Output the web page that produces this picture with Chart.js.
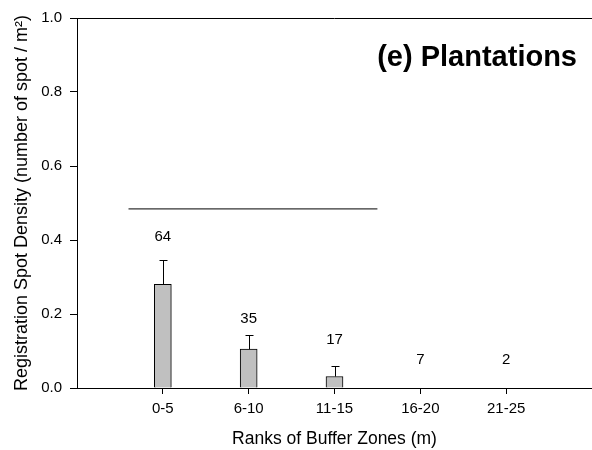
<!DOCTYPE html>
<html>
<head>
<meta charset="utf-8">
<script src="https://cdn.jsdelivr.net/npm/chart.js@4/dist/chart.umd.min.js"></script>
<style>
  html, body { margin: 0; padding: 0; background: #fff; }
  #wrap { width: 592px; height: 450px; }
</style>
</head>
<body>
<div id="wrap"><canvas id="c" width="592" height="450"></canvas></div>
<script>
// data
const categories = ["0-5", "6-10", "11-15", "16-20", "21-25"];
const density = [0.28, 0.105, 0.031, 0, 0];
const errUpper = [0.346, 0.144, 0.060, 0, 0];
const counts = [64, 35, 17, 7, 2];
const countLabelY = [0.408, 0.186, 0.13, 0.076, 0.076];
const yTicks = [0, 0.2, 0.4, 0.6, 0.8, 1.0];
// horizontal bracket line (x in category units, 1 = first zone)
const bracketX = [0.6, 3.5];
const bracketY = 0.484;

const FONT = "Liberation Sans, Arial, sans-serif";

const barPoints = categories.map((c, i) => ({ x: i + 1, y: density[i] }));

// error bars, count labels, panel title, top frame
const extras = {
  id: "extras",
  afterDatasetsDraw(chart) {
    const ctx = chart.ctx;
    const xs = chart.scales.x, ys = chart.scales.y;
    const area = chart.chartArea;
    ctx.save();
    ctx.strokeStyle = "#000";
    ctx.lineWidth = 1;

    // top frame line
    ctx.beginPath();
    ctx.moveTo(area.left, Math.round(area.top) + 0.5);
    ctx.lineTo(area.right, Math.round(area.top) + 0.5);
    ctx.stroke();

    // upper error bars
    errUpper.forEach((e, i) => {
      if (e <= density[i]) return;
      const px = Math.round(xs.getPixelForValue(i + 1)) + 0.5;
      const y0 = ys.getPixelForValue(density[i]);
      const y1 = Math.round(ys.getPixelForValue(e)) + 0.5;
      ctx.beginPath();
      ctx.moveTo(px, y0);
      ctx.lineTo(px, y1);
      ctx.moveTo(px - 4, y1);
      ctx.lineTo(px + 4, y1);
      ctx.stroke();
    });

    // sample counts
    ctx.fillStyle = "#000";
    ctx.font = "15px " + FONT;
    ctx.textAlign = "center";
    ctx.textBaseline = "middle";
    counts.forEach((n, i) => {
      ctx.fillText(String(n), xs.getPixelForValue(i + 1), ys.getPixelForValue(countLabelY[i]));
    });

    // panel title
    ctx.font = "bold 29px " + FONT;
    ctx.textAlign = "right";
    ctx.fillText("(e) Plantations", 577, 58);
    ctx.restore();
  }
};

new Chart(document.getElementById("c"), {
  data: {
    datasets: [
      {
        type: "bar",
        data: barPoints,
        backgroundColor: "#c0c0c0",
        borderColor: "#000",
        borderWidth: 1,
        barThickness: 17,
        order: 2
      },
      {
        type: "line",
        data: bracketX.map(x => ({ x: x, y: bracketY })),
        borderColor: "#000",
        borderWidth: 1,
        pointRadius: 0,
        order: 1
      }
    ]
  },
  options: {
    responsive: false,
    animation: false,
    layout: { padding: { top: 18, right: 0, bottom: 0, left: 0 } },
    plugins: {
      legend: { display: false },
      tooltip: { enabled: false }
    },
    scales: {
      x: {
        type: "linear",
        min: 0,
        max: 6,
        offset: false,
        afterBuildTicks(scale) {
          scale.ticks = categories.map((c, i) => ({ value: i + 1 }));
        },
        afterFit(scale) { scale.height = 62; },
        ticks: {
          autoSkip: false,
          maxRotation: 0,
          padding: 6,
          color: "#000",
          font: { family: FONT, size: 15 },
          callback: (v) => categories[v - 1] || ""
        },
        grid: {
          offset: false,
          drawOnChartArea: false,
          drawTicks: true,
          tickLength: 6,
          tickColor: "#000"
        },
        border: { display: true, color: "#000", width: 1 },
        title: {
          display: true,
          text: "Ranks of Buffer Zones (m)",
          color: "#000",
          font: { family: FONT, size: 17.5 },
          padding: { top: 0, bottom: 0 }
        }
      },
      y: {
        min: 0,
        max: 1,
        afterBuildTicks(scale) {
          scale.ticks = yTicks.map(v => ({ value: v }));
        },
        afterFit(scale) { scale.width = 77; },
        ticks: {
          padding: 8,
          color: "#000",
          font: { family: FONT, size: 15 },
          callback: (v) => v.toFixed(1)
        },
        grid: {
          drawOnChartArea: false,
          drawTicks: true,
          tickLength: 7,
          tickColor: "#000"
        },
        border: { display: true, color: "#000", width: 1 },
        title: {
          display: true,
          text: "Registration Spot Density (number of spot / m²)",
          color: "#000",
          font: { family: FONT, size: 18 },
          padding: { top: 11, bottom: 0 }
        }
      }
    }
  },
  plugins: [extras]
});
</script>
</body>
</html>
